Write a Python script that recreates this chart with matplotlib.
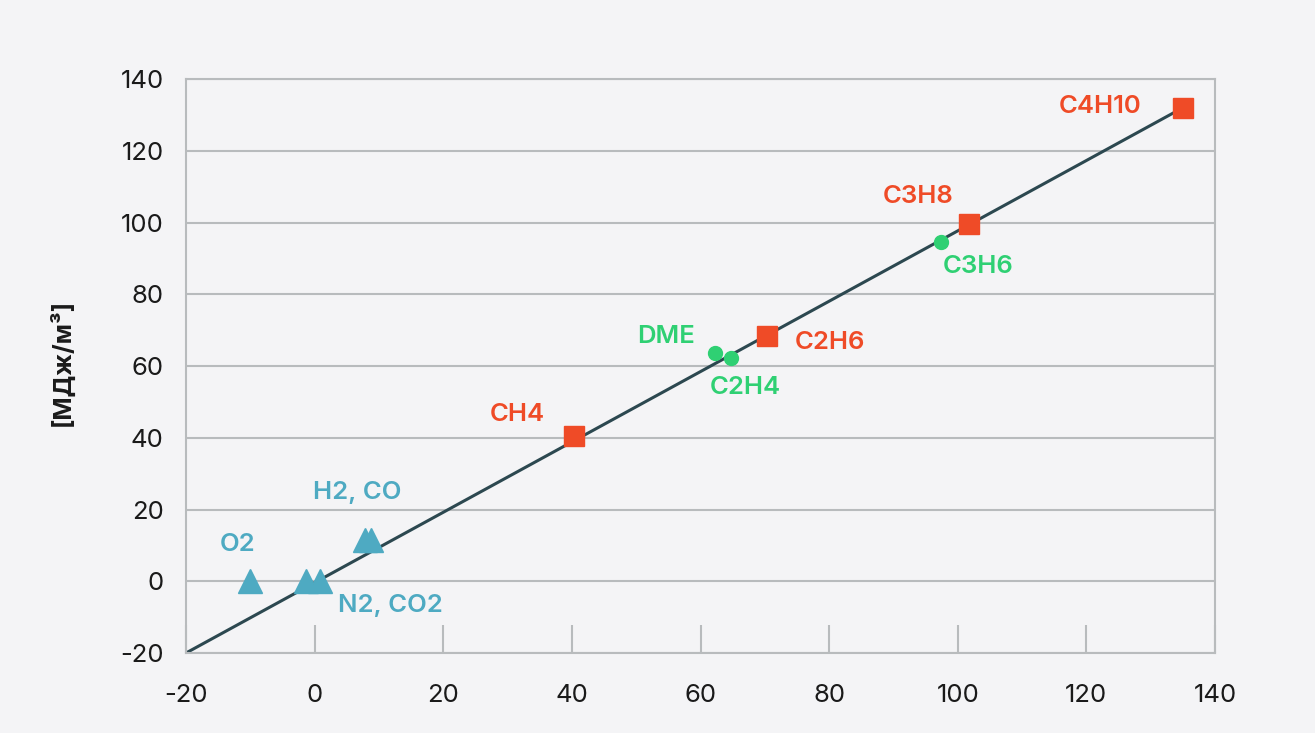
import matplotlib.pyplot as plt

plt.rcParams['font.family'] = ['Inter', 'DejaVu Sans']

# trend line
line_x = [-20, 135]
line_y = [-20, 132]

# alkanes (squares)
sq_names = ['CH4', 'C2H6', 'C3H8', 'C4H10']
sq_x = [40.4, 70.4, 101.7, 135.0]
sq_y = [40.4, 68.5, 99.7, 132.0]

# other fuels (circles)
ci_names = ['DME', 'C2H4', 'C3H6']
ci_x = [62.2, 64.7, 97.4]
ci_y = [63.5, 62.1, 94.7]

# gases (triangles)
tr_names = ['O2', 'N2', 'CO2', 'H2', 'CO']
tr_x = [-10.1, -1.4, 0.8, 7.8, 8.7]
tr_y = [0, 0, 0, 11.4, 11.4]

xticks = [-20, 0, 20, 40, 60, 80, 100, 120, 140]
yticks = [-20, 0, 20, 40, 60, 80, 100, 120, 140]

red = '#ef4b27'
green = '#2fd073'
blue = '#4eaac2'
grey = '#b8bbbd'
bg = '#f4f4f6'

fig = plt.figure(figsize=(13.15, 7.33), dpi=100, facecolor=bg)
ax = fig.add_axes([0.1414, 0.1091, 0.7826, 0.7831])
ax.set_facecolor(bg)

ax.set_xlim(-20, 140)
ax.set_ylim(-20, 140)
ax.set_xticks(xticks)
ax.set_yticks(yticks)
ax.set_xticklabels([str(v) for v in xticks], fontsize=18.5, color='#1a1a1a')
ax.set_yticklabels([str(v) for v in yticks], fontsize=18.5, color='#1a1a1a')
ax.tick_params(axis='x', direction='in', length=20, width=1.5, color=grey, pad=22)
ax.tick_params(axis='y', length=0, pad=16)
ax.grid(axis='y', color=grey, linewidth=1.5)
ax.set_axisbelow(True)
for s in ax.spines.values():
    s.set_color(grey)
    s.set_linewidth(1.5)

ax.plot(line_x, line_y, color='#2c4850', linewidth=2.2, zorder=2)

ax.plot(tr_x, tr_y, '^', color=blue, markersize=17, linestyle='none', zorder=3)
ax.plot(ci_x, ci_y, 'o', color=green, markersize=10, linestyle='none', zorder=3)
ax.plot(sq_x, sq_y, 's', color=red, markersize=14, linestyle='none', zorder=3)

lab = dict(fontsize=18.5, fontweight='semibold', va='center', ha='center')
ax.text(-11.9, 10.3, 'O2', color=blue, **lab)
ax.text(6.6, 24.8, 'H2, CO', color=blue, **lab)
ax.text(11.8, -6.7, 'N2, CO2', color=blue, **lab)
ax.text(31.5, 46.5, 'CH4', color=red, **lab)
ax.text(80.2, 66.6, 'C2H6', color=red, **lab)
ax.text(93.9, 107.3, 'C3H8', color=red, **lab)
ax.text(122.2, 132.3, 'C4H10', color=red, **lab)
ax.text(54.6, 68.3, 'DME', color=green, **lab)
ax.text(66.9, 53.9, 'C2H4', color=green, **lab)
ax.text(103.2, 87.8, 'C3H6', color=green, **lab)

fig.text(0.047, 0.505, '[МДж/м³]', rotation=90, fontsize=18, fontweight='bold',
         va='center', ha='center', color='#1a1a1a')

fig.savefig('out.png', dpi=100, facecolor=bg)
